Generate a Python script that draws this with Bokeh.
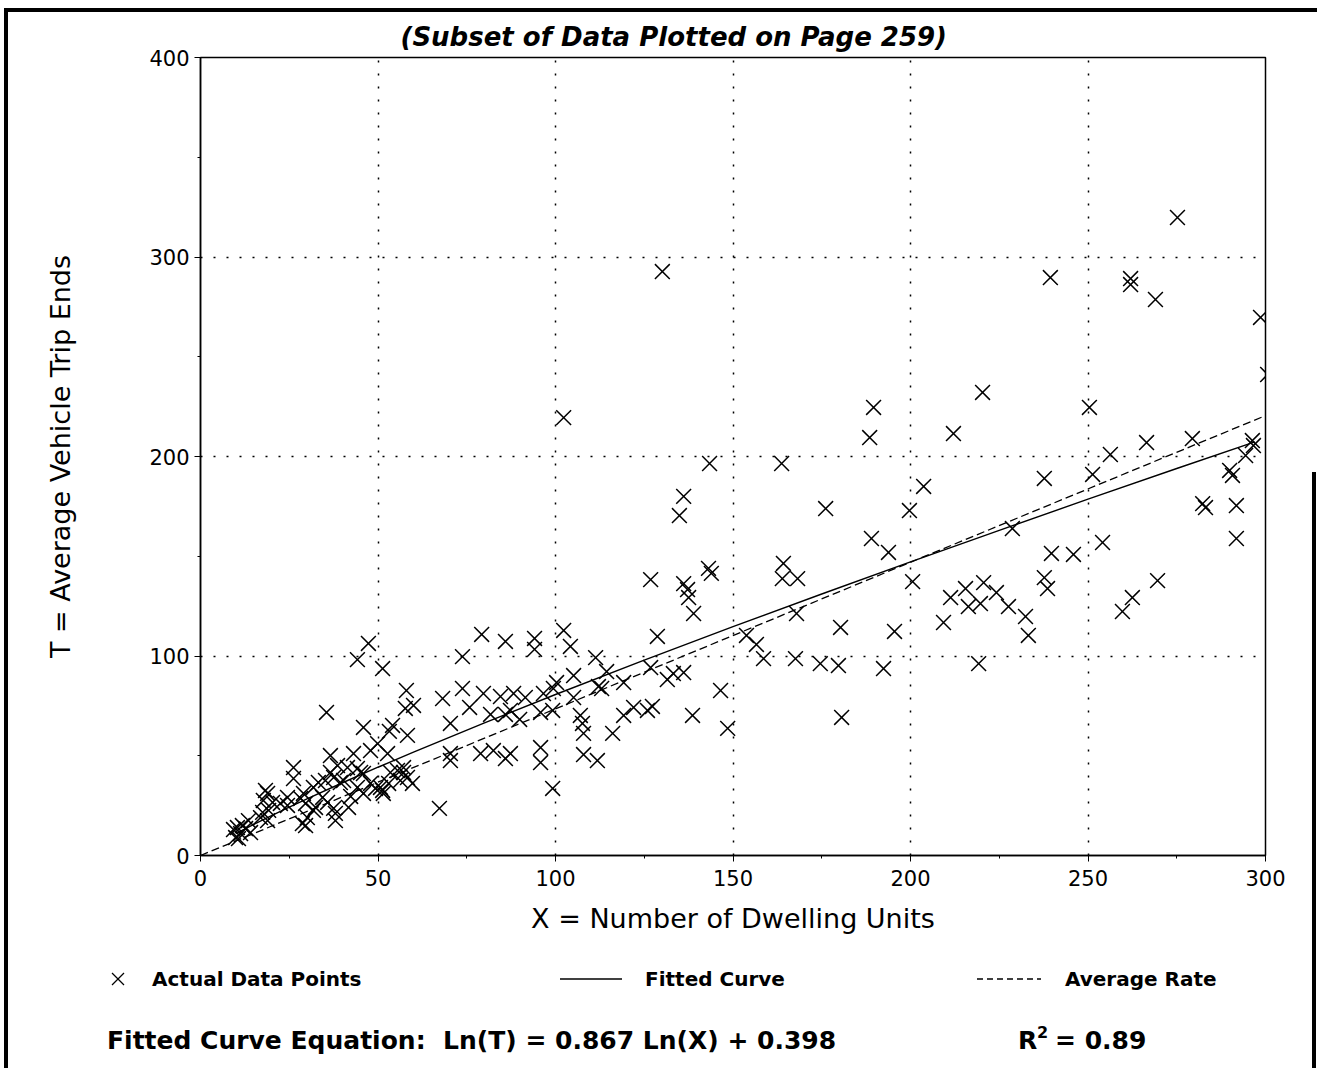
import math
from bokeh.plotting import figure
from bokeh.layouts import column
from bokeh.models import Div, FixedTicker, Range1d
from bokeh.embed import file_html
from bokeh.resources import INLINE

# ---------------- data ----------------
dwelling_units = [
    275.2, 130.1, 239.4, 262.0, 262.0, 269.0, 298.6, 300.6, 220.3, 189.6,
    250.4, 102.3, 188.5, 212.1, 266.5, 279.4, 296.3, 296.6, 294.4, 256.3,
    143.4, 163.7, 237.7, 251.3, 290.7, 289.9, 203.7, 136.1, 282.3, 283.1,
    291.8, 176.1, 199.7, 134.9, 228.7, 189.0, 254.1, 291.8, 193.8, 239.7,
    245.9, 164.2, 143.1, 143.9, 163.9, 168.2, 237.7, 238.6, 269.6, 126.8,
    136.1, 137.2, 137.5, 200.6, 215.5, 220.6, 224.2, 211.3, 262.5, 216.3,
    219.7, 227.6, 259.7, 138.9, 167.9, 232.4, 209.3, 180.3, 195.5, 233.2,
    128.7, 153.8, 156.6, 158.6, 167.6, 174.6, 179.7, 192.4, 219.2, 126.8,
    131.5, 133.2, 136.1, 146.5, 125.9, 127.3, 138.6, 148.5, 180.6,
    79.2, 85.9, 94.1, 94.1, 102.3, 104.2, 73.8, 111.3, 114.4, 105.1,
    100.3, 99.4, 112.1, 113.0, 119.2, 58.0, 60.0, 57.7, 68.2, 73.8,
    75.8, 79.7, 84.5, 88.2, 91.5, 96.6, 81.7, 85.9, 89.9, 87.3,
    95.8, 99.2, 105.1, 107.0, 107.6, 107.9, 116.1, 119.2, 122.0, 70.4,
    70.4, 70.4, 58.3, 78.9, 82.5, 85.9, 87.3, 95.8, 95.8, 107.9,
    111.8, 99.2, 67.3, 57.2, 59.7,
    47.3, 44.2, 51.3, 35.5, 45.9, 53.2, 36.6, 43.1, 47.9, 26.2,
    26.2, 38.6, 36.6, 33.2, 37.5, 44.2, 45.9, 44.2, 40.3, 49.3,
    45.9, 42.3, 38.0, 41.7, 34.4, 32.4, 29.6, 29.6, 31.8, 18.9,
    17.7, 20.3, 19.2, 16.9, 22.5, 10.4, 11.8, 12.7, 11.3, 9.9,
    13.5, 14.1, 49.9, 52.7, 58.3, 56.3, 53.0, 51.3, 53.5, 55.5,
    41.4, 35.2, 29.0, 24.5, 18.3, 17.5, 18.9, 9.3, 10.7, 24.5,
    28.2, 28.7, 54.1, 31.8, 39.4, 47.9, 57.2, 37.5, 35.8, 30.1,
    38.0, 50.7, 51.5, 45.1,
]
trip_ends = [
    319.8, 292.7, 289.7, 289.2, 286.2, 278.7, 269.7, 241.1, 232.1, 224.6,
    224.6, 219.5, 209.5, 211.5, 207.0, 209.0, 208.0, 205.5, 200.5, 201.0,
    196.5, 196.5, 189.0, 191.0, 190.5, 193.0, 185.0, 180.0, 176.4, 174.4,
    175.4, 173.9, 172.9, 170.4, 163.9, 158.9, 156.9, 158.9, 151.9, 151.4,
    150.9, 146.4, 143.9, 141.4, 138.8, 138.8, 139.3, 133.8, 137.8, 138.3,
    136.3, 133.3, 129.3, 137.3, 133.8, 136.8, 131.8, 129.3, 129.3, 124.8,
    126.3, 124.8, 122.3, 121.3, 121.3, 119.8, 116.8, 114.3, 112.3, 110.3,
    109.8, 110.3, 105.8, 98.7, 98.7, 96.2, 95.2, 93.7, 96.2, 94.2,
    88.2, 91.2, 91.7, 82.7, 72.7, 74.7, 70.2, 63.7, 69.2,
    110.8, 107.3, 108.8, 103.3, 112.8, 104.8, 99.7, 99.2, 92.2, 90.2,
    86.7, 83.7, 84.7, 83.7, 86.7, 82.7, 75.2, 73.7, 78.7, 83.7,
    74.2, 81.2, 79.7, 81.2, 79.2, 81.2, 70.7, 70.7, 68.2, 72.7,
    71.7, 72.7, 79.2, 70.2, 66.2, 61.2, 61.2, 70.2, 74.2, 66.2,
    51.1, 47.6, 60.2, 51.1, 52.6, 48.6, 51.1, 54.1, 46.6, 50.6,
    47.6, 33.6, 23.6, 44.1, 36.1,
    106.3, 98.2, 93.7, 71.7, 64.2, 62.2, 50.1, 51.1, 52.6, 44.1,
    38.6, 45.1, 41.6, 36.6, 39.1, 43.6, 41.1, 34.1, 37.6, 33.6,
    31.1, 29.6, 21.1, 24.1, 29.1, 24.1, 26.1, 15.0, 22.6, 31.1,
    27.6, 26.6, 22.6, 19.0, 26.1, 14.0, 15.0, 13.5, 11.0, 9.0,
    17.5, 11.5, 56.1, 51.1, 39.1, 37.6, 36.1, 32.6, 41.6, 42.6,
    44.1, 37.6, 31.1, 29.1, 32.6, 21.6, 17.5, 13.0, 8.5, 25.1,
    28.6, 16.0, 65.2, 34.1, 36.6, 36.1, 41.6, 23.6, 26.6, 19.0,
    17.5, 34.1, 31.1, 41.6,
]

# fitted curve  Ln(T) = 0.867 Ln(X) + 0.398, drawn over the data range
fit_slope = 0.867
fit_intercept = 0.398
fit_x = [10, 12, 15, 20, 25, 30, 40, 50, 60, 80, 100, 125, 150, 175, 200, 225, 250, 275, 297]
fit_t = [math.exp(fit_slope * math.log(x) + fit_intercept) for x in fit_x]

# average rate line
avg_rate = 0.735
avg_x = [0, 299]
avg_t = [avg_rate * x for x in avg_x]

x_ticks = [0, 50, 100, 150, 200, 250, 300]
y_ticks = [0, 100, 200, 300, 400]

title_text = "(Subset of Data Plotted on Page 259)"
x_label = "X = Number of Dwelling Units"
y_label = "T = Average Vehicle Trip Ends"
legend_points = "Actual Data Points"
legend_fit = "Fitted Curve"
legend_avg = "Average Rate"
equation_text = "Fitted Curve Equation:  Ln(T) = 0.867 Ln(X) + 0.398"
r2_value = "0.89"

# ---------------- layout constants (page pixels) ----------------
FONT = "DejaVu Sans"
OX, OY = 8, 12             # page offset of the content (inside the scan border)
PAGE_W, PAGE_H = 1317, 1068
SPLIT = 950                # page y where the bottom text strip starts
FL, FR, FT, FB = 200, 1265, 57, 855  # plot frame edges on the page

W = PAGE_W - OX
H1 = SPLIT - OY
H2 = PAGE_H - SPLIT

# ---------------- main chart ----------------
p = figure(width=W, height=H1, output_backend="svg", toolbar_location=None,
           x_range=Range1d(0, 300), y_range=Range1d(0, 400),
           min_border_left=FL - OX, min_border_right=PAGE_W - FR,
           min_border_top=FT - OY, min_border_bottom=SPLIT - FB)
p.background_fill_color = "white"
p.border_fill_color = "white"
p.outline_line_color = "black"
p.outline_line_width = 1.5

p.title.text = title_text
p.title.align = "left"
p.title.offset = 200
p.title.text_font = FONT
p.title.text_font_size = "26px"
p.title.text_font_style = "bold italic"
p.title.text_color = "black"
p.title.standoff = 12

p.xaxis.ticker = FixedTicker(ticks=x_ticks, minor_ticks=[25, 75, 125, 175, 225, 275])
p.yaxis.ticker = FixedTicker(ticks=y_ticks, minor_ticks=[50, 150, 250, 350])
for ax in (p.xaxis[0], p.yaxis[0]):
    ax.axis_line_color = "black"
    ax.axis_line_width = 1.5
    ax.major_tick_line_color = "black"
    ax.minor_tick_line_color = "black"
    ax.major_tick_out = 6
    ax.major_tick_in = 0
    ax.minor_tick_out = 3
    ax.minor_tick_in = 0
    ax.major_label_text_font = FONT
    ax.major_label_text_font_size = "21px"
    ax.major_label_text_color = "black"
    ax.axis_label_text_font = FONT
    ax.axis_label_text_font_size = "27px"
    ax.axis_label_text_font_style = "normal"
    ax.axis_label_text_color = "black"
p.xaxis.axis_label = x_label
p.yaxis.axis_label = y_label
p.xaxis.major_label_standoff = 8
p.yaxis.major_label_standoff = 5
p.xaxis.axis_label_standoff = 14
p.yaxis.axis_label_standoff = 70

p.grid.grid_line_color = "black"
p.grid.grid_line_width = 1.5
p.grid.grid_line_dash = "2 11"

p.line(avg_x, avg_t, line_color="black", line_width=1.3, line_dash="8 4")
p.line(fit_x, fit_t, line_color="black", line_width=1.4)
p.scatter(dwelling_units, trip_ends, marker="x", size=21, line_color="black", line_width=1.5)

# ---------------- bottom strip: legend and equation (HTML text, page coordinates) ----------------
parts = []


def text_at(x, cy, text, size, weight="bold"):
    lh = round(size * 1.2)
    parts.append(
        f'<div style="position:absolute;left:{x - OX}px;top:{cy - SPLIT - lh / 2:.1f}px;'
        f"font-family:'{FONT}';font-size:{size}px;line-height:{lh}px;font-weight:{weight};"
        f'white-space:pre;color:black;margin:0;padding:0;">{text}</div>')


def svg_at(x, y, w, h, inner):
    parts.append(
        f'<svg style="position:absolute;left:{x - OX}px;top:{y - SPLIT}px;overflow:visible;" '
        f'width="{w}" height="{h}">{inner}</svg>')


LEG_Y = 979
# marker sample
svg_at(111, LEG_Y - 7, 14, 14,
       '<line x1="1" y1="1" x2="13" y2="13" stroke="black" stroke-width="1.3"/>'
       '<line x1="13" y1="1" x2="1" y2="13" stroke="black" stroke-width="1.3"/>')
text_at(152, LEG_Y, legend_points, 20)
# solid line sample
svg_at(560, LEG_Y - 2, 62, 4,
       '<line x1="0" y1="2" x2="62" y2="2" stroke="black" stroke-width="1.5"/>')
text_at(645, LEG_Y, legend_fit, 20)
# dashed line sample
svg_at(977, LEG_Y - 2, 64, 4,
       '<line x1="0" y1="2" x2="64" y2="2" stroke="black" stroke-width="1.3" stroke-dasharray="6 4"/>')
text_at(1065, LEG_Y, legend_avg, 20)

EQ_Y = 1041
text_at(107, EQ_Y, equation_text, 25)
text_at(1018, EQ_Y, "R", 25)
text_at(1037, EQ_Y - 9, "2", 16)
text_at(1055, EQ_Y, "= " + r2_value, 25)

# right-hand scan border (visible from mid-page downwards)
RB_TOP = 472
parts.append(f'<div style="position:absolute;left:{1312 - OX}px;top:{RB_TOP - SPLIT}px;width:4px;'
             f'height:{PAGE_H - RB_TOP}px;background:black;z-index:10;"></div>')

html = (f'<div style="position:relative;width:{W}px;height:{H2}px;margin:0;padding:0;overflow:visible;">'
        + "".join(parts) + "</div>")
strip = Div(text=html, width=W, height=H2, margin=(0, 0, 0, 0),
            styles={"overflow": "visible", "z-index": "5"})

page = column(p, strip, spacing=0,
              styles={"margin-left": "4px", "margin-top": "8px",
                      "border-left": "4px solid black", "border-top": "4px solid black"})

open("out.html", "w").write(file_html(page, INLINE))
